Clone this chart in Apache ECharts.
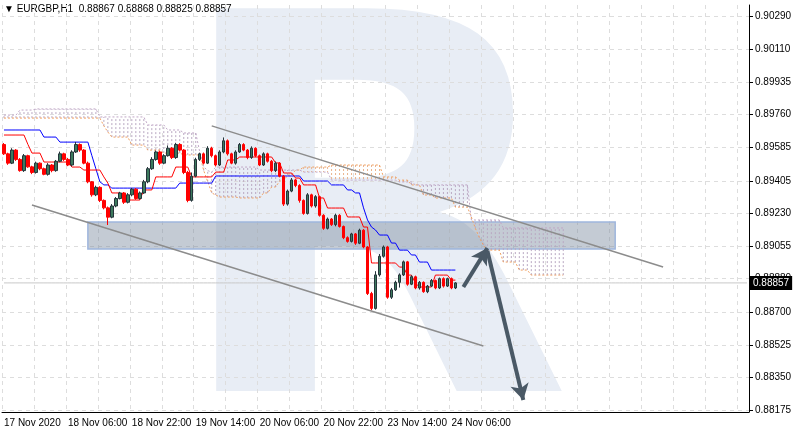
<!DOCTYPE html>
<html>
<head>
<meta charset="UTF-8">
<script src="https://cdn.jsdelivr.net/npm/echarts@6/dist/echarts.min.js"></script>
<style>
  html, body { margin: 0; padding: 0; background: #fff; }
  #chart { width: 797px; height: 435px; }
</style>
</head>
<body>
<div id="chart"></div>
<script>
// closes of the H1 candles, open of each bar = previous close
const firstOpen = 0.8960;
const closes = [
  0.8955,0.8950,0.8957,0.8952,0.8946, 0.8954,0.8948,0.8945,0.8950,0.8947,
  0.8944,0.8949,0.8946,0.8951,0.8955, 0.8952,0.8949,0.8956,0.8960,0.8957,
  0.8950,0.8940,0.8933,0.8937,0.8930, 0.8926,0.8921,0.8927,0.8931,0.8934,
  0.8929,0.8933,0.8936,0.8931,0.8934, 0.8940,0.8947,0.8952,0.8956,0.8950,
  0.8954,0.8958,0.8953,0.8960,0.8957, 0.8945,0.8930,0.8943,0.8952,0.8955,
  0.8950,0.8958,0.8954,0.8949,0.8956, 0.8962,0.8955,0.8950,0.8956,0.8960,
  0.8957,0.8953,0.8958,0.8954,0.8949, 0.8955,0.8951,0.8946,0.8950,0.8943,
  0.8928,0.8935,0.8941,0.8938,0.8930, 0.8923,0.8933,0.8927,0.8932,0.8922,
  0.8915,0.8920,0.8917,0.8922,0.8916, 0.8910,0.8908,0.8912,0.8907,0.8914,
  0.8905,0.8880,0.8872,0.8890,0.8900, 0.8905,0.8878,0.8882,0.8886,0.8890,
  0.8897,0.8885,0.8889,0.8883,0.8886, 0.8881,0.8884,0.8887,0.8883,0.8888,
  0.8884,0.8888,0.8883,0.88857
];
// wick lengths in points (0.00001)
const wickUp = [
  8,6,10,5,7, 9,5,6,8,4, 6,10,5,7,12, 6,8,9,14,6,
  5,8,4,9,6, 5,7,10,8,6, 5,9,7,6,8, 10,9,12,8,7,
  8,15,6,9,7, 5,8,20,9,6, 7,11,8,6,9, 18,7,6,9,8,
  7,6,10,5,6, 8,6,7,9,5, 6,8,10,6,7, 5,9,6,8,5,
  6,8,5,9,6, 5,7,6,5,8, 6,5,9,20,12, 8,6,10,9,8,
  7,5,8,6,7, 5,6,8,5,6, 7,5,6,4
];
const wickDn = [
  6,9,5,8,6, 7,5,9,6,8, 5,7,9,6,5, 8,6,7,5,9,
  6,8,10,7,9, 8,42,6,7,5, 9,6,8,7,6, 5,8,6,7,9,
  6,5,8,7,6, 9,10,7,6,8, 7,5,9,8,6, 7,9,6,8,5,
  6,9,7,8,6, 5,7,9,8,6, 10,8,6,9,12, 7,6,8,9,7,
  8,6,7,9,6, 8,7,6,9,5, 7,8,10,6,9, 7,8,9,6,28,
  6,8,5,7,9, 6,8,5,7,6, 8,5,7,6
];
// ichimoku lines as runs [value, bars]
const tenkanRuns = [[0.89651,6],[0.89600,1],[0.89554,3],[0.89506,7],[0.89479,3],[0.89463,5],[0.89426,1],[0.89393,1],
  [0.89340,3],[0.89302,5],[0.89356,3],[0.89426,5],[0.89479,4],[0.89426,6],[0.89452,3],[0.89517,3],[0.89533,9],
  [0.89501,2],[0.89447,3],[0.89420,2],[0.89383,4],[0.89313,2],[0.89259,5],[0.89211,4],[0.89157,2],[0.88964,7],
  [0.88942,2],[0.88899,2],[0.88856,1],[0.88835,4],[0.88899,4],[0.88872,2]];
const kijunRuns = [[0.89678,10],[0.89640,4],[0.89613,8],[0.89540,1],[0.89470,1],[0.89400,1],[0.89383,2],[0.89366,17],
  [0.89393,9],[0.89431,22],[0.89404,7],[0.89383,4],[0.89356,2],[0.89340,2],[0.89260,1],[0.89195,1],[0.89157,1],
  [0.89141,1],[0.89114,3],[0.89071,2],[0.89033,3],[0.89007,2],[0.88969,3],[0.88926,7]];
const spanARuns = [[0.89742,25],[0.89700,1],[0.89667,1],[0.89640,5],[0.89597,4],[0.89570,4],[0.89554,5],[0.89544,5],
  [0.89460,1],[0.89400,1],[0.89340,1],[0.89329,1],[0.89318,5],[0.89313,6],[0.89340,2],[0.89372,2],[0.89404,2],
  [0.89436,2],[0.89463,2],[0.89479,7],[0.89490,13],[0.89426,4],[0.89409,3],[0.89383,3],[0.89329,3],[0.89313,5],
  [0.89264,4],[0.89211,1],[0.89150,1],[0.89100,1],[0.89060,1],[0.89033,4],[0.88969,4],[0.88926,3],[0.88899,9]];
const spanBRuns = [[0.89758,4],[0.89785,4],[0.89791,16],[0.89748,12],[0.89705,5],[0.89678,4],[0.89662,4],[0.89560,1],
  [0.89480,1],[0.89460,1],[0.89452,1],[0.89479,11],[0.89463,11],[0.89452,7],[0.89409,17],[0.89399,4],[0.89383,14],
  [0.89195,8],[0.89152,16]];
const xLabels = ['17 Nov 2020','18 Nov 06:00','18 Nov 22:00','19 Nov 14:00','20 Nov 06:00','20 Nov 22:00','23 Nov 14:00','24 Nov 06:00'];
const yTicks = [0.88175,0.88350,0.88525,0.88700,0.88880,0.89055,0.89230,0.89405,0.89585,0.89760,0.89935,0.90110,0.90290];
const lastPrice = 0.88857;
const barCount = 187;

const expand = runs => runs.flatMap(([v, n]) => Array(n).fill(v));
const tenkan = expand(tenkanRuns), kijun = expand(kijunRuns);
const spanA = expand(spanARuns), spanB = expand(spanBRuns);

const cats = Array.from({length: barCount}, (_, i) => (i % 16 === 0 && xLabels[i / 16]) ? xLabels[i / 16] : '');
const candles = closes.map((c, i) => {
  const o = i === 0 ? firstOpen : closes[i - 1];
  return [o, c, Math.min(o, c) - wickDn[i] / 1e5, Math.max(o, c) + wickUp[i] / 1e5];
});
const cloud = spanA.map((a, i) => [i, a, spanB[i]]);
const labelShown = i => i % 16 === 0 && i <= 112;

const chart = echarts.init(document.getElementById('chart'));
chart.setOption({
  animation: false,
  textStyle: { fontFamily: 'Liberation Sans' },
  grid: { left: 2, right: 48, top: 5, bottom: 23 },
  graphic: [
    { type: 'text', left: 168, top: -8, z: -10, silent: true,
      style: { text: 'R', font: 'bold 525px "DejaVu Sans"', fill: '#e8edf5' } },
    { type: 'text', left: 4, top: 4,
      style: { text: '▼ EURGBP,H1  0.88867 0.88868 0.88825 0.88857', font: '10px "Liberation Sans"', fill: '#000' } }
  ],
  xAxis: {
    type: 'category', data: cats, boundaryGap: true,
    axisLine: { lineStyle: { color: '#000' } },
    axisTick: { interval: labelShown, length: 4, lineStyle: { color: '#000' } },
    axisLabel: { interval: labelShown, showMinLabel: true, hideOverlap: false, color: '#000', fontSize: 10, align: 'left', margin: 6 },
    splitLine: { show: true, interval: (i) => i % 8 === 0, lineStyle: { color: '#ddd', type: [4, 4] } }
  },
  yAxis: {
    type: 'value', position: 'right', min: 0.88164, max: 0.90349, scale: true,
    axisLine: { show: true, lineStyle: { color: '#000' } },
    axisTick: { show: true, customValues: yTicks, length: 4, lineStyle: { color: '#000' } },
    axisLabel: { customValues: yTicks, color: '#000', fontSize: 10, margin: 6, formatter: v => v.toFixed(5) },
    splitLine: { show: true, lineStyle: { color: '#ddd', type: [4, 4] } }
  },
  series: [
    {
      type: 'custom', z: 1, silent: true,
      renderItem: (params, api) => {
        const i = api.value(0), a = api.value(1), b = api.value(2);
        const p1 = api.coord([i, a]), p2 = api.coord([i, b]);
        return { type: 'line', shape: { x1: p1[0], y1: p1[1], x2: p2[0], y2: p2[1] },
          style: { stroke: a >= b ? '#eab48e' : '#b9a8c2', lineWidth: 1, lineDash: [2, 2] } };
      },
      data: cloud
    },
    { type: 'line', data: spanA, symbol: 'none', z: 2, lineStyle: { color: '#f0a060', width: 1, type: [2, 2] } },
    { type: 'line', data: spanB, symbol: 'none', z: 2, lineStyle: { color: '#c0a6c6', width: 1, type: [2, 2] } },
    { type: 'line', data: kijun, symbol: 'none', z: 3, lineStyle: { color: '#0000ff', width: 1 } },
    { type: 'line', data: tenkan, symbol: 'none', z: 3, lineStyle: { color: '#ff0000', width: 1 } },
    {
      type: 'candlestick', data: candles, barWidth: 3, z: 4,
      itemStyle: { color: '#3d7a5e', borderColor: '#25343a', color0: '#ff0000', borderColor0: '#ff0000', borderWidth: 1 },
      markLine: {
        silent: true, symbol: 'none', animation: false,
        data: [
          [{ coord: [52, 0.89700] }, { coord: [165, 0.88942] }],
          [{ coord: [7, 0.89275] }, { coord: [120, 0.88518] }]
        ],
        lineStyle: { color: '#8c8c8c', width: 1.5, type: 'solid' },
        label: { show: false }
      },
      markArea: {
        silent: true,
        itemStyle: { color: 'rgba(125,140,160,0.45)', borderColor: '#9fb6dd', borderWidth: 1.5 },
        data: [[{ coord: [21, 0.89184] }, { coord: [153, 0.89039] }]]
      }
    },
    {
      type: 'line', data: Array(barCount).fill(lastPrice), symbol: 'none', z: 1, silent: true,
      lineStyle: { color: '#c8c8c8', width: 1 },
      endLabel: { show: true, formatter: lastPrice.toFixed(5), color: '#fff', backgroundColor: '#000',
                  fontSize: 10, padding: [2, 3], distance: 3 }
    },
    {
      type: 'line', data: [], z: 6,
      markLine: {
        silent: true, symbol: ['none', 'arrow'], symbolSize: [14, 16],
        lineStyle: { color: '#4a5966', width: 4, type: 'solid' },
        label: { show: false },
        data: [
          [{ coord: [115, 0.88835] }, { coord: [121, 0.89044] }],
          [{ coord: [121, 0.89030] }, { coord: [130, 0.88228] }]
        ]
      }
    }
  ]
});
</script>
</body>
</html>
